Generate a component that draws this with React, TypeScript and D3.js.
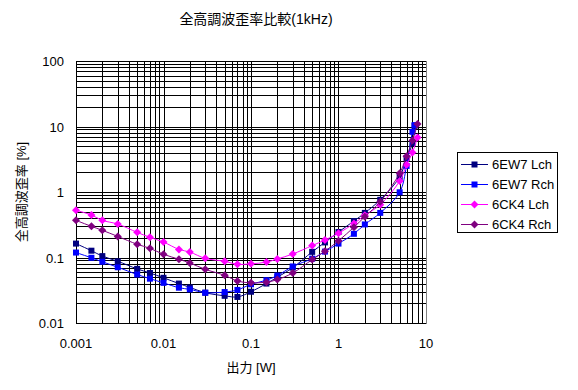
import React, { useEffect, useRef } from 'react';
import * as d3 from 'd3';

// output power [W]
const ewX = [0.001, 0.0015, 0.002, 0.003, 0.005, 0.007, 0.01, 0.015, 0.02, 0.03, 0.05, 0.07, 0.1, 0.15, 0.2, 0.3, 0.5, 0.7, 1, 1.5, 2, 3, 5, 6, 7, 7.4];
const ckX = [0.001, 0.0015, 0.002, 0.003, 0.005, 0.007, 0.01, 0.015, 0.02, 0.03, 0.05, 0.07, 0.1, 0.15, 0.2, 0.3, 0.5, 0.7, 1, 1.5, 2, 3, 5, 6, 7, 8];

// THD [%]
const ew7L = [0.163, 0.127, 0.105, 0.0875, 0.067, 0.058, 0.049, 0.040, 0.035, 0.029, 0.026, 0.025, 0.030, 0.040, 0.050, 0.070, 0.122, 0.17, 0.245, 0.36, 0.48, 0.76, 1.7, 3.3, 5.5, 10.2];
const ew7R = [0.119, 0.099, 0.086, 0.071, 0.055, 0.0475, 0.041, 0.0346, 0.0326, 0.029, 0.0297, 0.032, 0.039, 0.045, 0.053, 0.073, 0.096, 0.123, 0.163, 0.23, 0.32, 0.48, 0.99, 2.5, 8.3, 10.5];
const ck4L = [0.525, 0.446, 0.369, 0.324, 0.242, 0.203, 0.172, 0.133, 0.121, 0.097, 0.0875, 0.0787, 0.080, 0.085, 0.095, 0.113, 0.152, 0.185, 0.235, 0.33, 0.44, 0.64, 1.47, 2.6, 4.0, 6.8];
const ck4R = [0.369, 0.299, 0.260, 0.210, 0.159, 0.138, 0.112, 0.094, 0.0824, 0.066, 0.0534, 0.0438, 0.041, 0.042, 0.046, 0.058, 0.093, 0.125, 0.18, 0.29, 0.42, 0.71, 1.93, 3.5, 6.1, 10.9];

const seriesNames = ['6EW7 Lch', '6EW7 Rch', '6CK4 Lch', '6CK4 Rch'];
const xTicks = [0.001, 0.01, 0.1, 1, 10];
const yTicks = [0.01, 0.1, 1, 10, 100];

const font = '"Liberation Sans", Arial, "Noto Sans CJK JP", sans-serif';

const App = () => {
  const svgRef = useRef<SVGSVGElement>(null);

  useEffect(() => {
    const margin = { top: 61, left: 76 };
    const width = 350;
    const height = 262;

    const root = d3.select(svgRef.current);
    root.selectAll('*').remove();

    const svg = root.append('g')
      .attr('transform', `translate(${margin.left},${margin.top})`);

    const xScale = d3.scaleLog().domain([0.001, 10]).range([0, width]);
    const yScale = d3.scaleLog().domain([0.01, 100]).range([height, 0]);

    // grid, major + minor
    const xGrid: number[] = [];
    for (let e = -3; e < 1; e++) for (let k = 1; k < 10; k++) xGrid.push(k * Math.pow(10, e));
    const yGrid: number[] = [];
    for (let e = -2; e < 2; e++) for (let k = 1; k < 10; k++) yGrid.push(k * Math.pow(10, e));

    const grid = svg.append('g').attr('shape-rendering', 'crispEdges');
    grid.selectAll('.vgrid').data(xGrid).enter().append('line')
      .attr('x1', d => Math.round(xScale(d)) + 0.5).attr('x2', d => Math.round(xScale(d)) + 0.5)
      .attr('y1', 0).attr('y2', height)
      .attr('stroke', '#000').attr('stroke-width', 1);
    grid.selectAll('.hgrid').data(yGrid.concat([100])).enter().append('line')
      .attr('y1', d => Math.round(yScale(d)) + 0.5).attr('y2', d => Math.round(yScale(d)) + 0.5)
      .attr('x1', 0).attr('x2', width)
      .attr('stroke', '#000').attr('stroke-width', 1);

    // right border of the plot area
    grid.append('line')
      .attr('x1', width + 0.5).attr('x2', width + 0.5).attr('y1', 0).attr('y2', height + 1)
      .attr('stroke', '#808080');

    // tick labels
    svg.selectAll('.xlab').data(xTicks).enter().append('text')
      .attr('x', d => xScale(d)).attr('y', height + 25)
      .attr('text-anchor', 'middle')
      .style('font-family', font).style('font-size', '13px')
      .text(d => String(d));
    svg.selectAll('.ylab').data(yTicks).enter().append('text')
      .attr('x', -12).attr('y', d => yScale(d) + 5)
      .attr('text-anchor', 'end')
      .style('font-family', font).style('font-size', '13px')
      .text(d => String(d));

    // axis titles
    svg.append('text')
      .attr('x', width / 2).attr('y', height + 49)
      .attr('text-anchor', 'middle')
      .style('font-family', font).style('font-size', '13px')
      .text('出力 [W]');
    svg.append('text')
      .attr('transform', `translate(${-50},${height / 2}) rotate(-90)`)
      .attr('text-anchor', 'middle')
      .style('font-family', font).style('font-size', '13px')
      .text('全高調波歪率 [%]');

    const series = [
      { name: seriesNames[0], xs: ewX, ys: ew7L, color: '#000080', shape: 'square' },
      { name: seriesNames[1], xs: ewX, ys: ew7R, color: '#0000ff', shape: 'square' },
      { name: seriesNames[2], xs: ckX, ys: ck4L, color: '#ff00ff', shape: 'diamond' },
      { name: seriesNames[3], xs: ckX, ys: ck4R, color: '#800080', shape: 'diamond' },
    ];

    const line = d3.line<[number, number]>()
      .x(d => xScale(d[0]))
      .y(d => yScale(d[1]))
      .curve(d3.curveCatmullRom.alpha(0.5));

    const marker = (g, shape, color, x, y) => {
      if (shape === 'square') {
        g.append('rect')
          .attr('x', x - 3).attr('y', y - 3).attr('width', 6).attr('height', 6)
          .attr('fill', color);
      } else {
        g.append('path')
          .attr('d', `M${x},${y - 4}L${x + 4},${y}L${x},${y + 4}L${x - 4},${y}Z`)
          .attr('fill', color);
      }
    };

    series.forEach(s => {
      const pts = s.xs.map((x, i) => [x, s.ys[i]] as [number, number]);
      svg.append('path')
        .attr('d', line(pts))
        .attr('fill', 'none')
        .attr('stroke', s.color)
        .attr('stroke-width', 1);
      const g = svg.append('g');
      pts.forEach(p => marker(g, s.shape, s.color, xScale(p[0]), yScale(p[1])));
    });

    // legend
    const legend = root.append('g').attr('transform', 'translate(457,152)');
    legend.append('rect')
      .attr('x', 0.5).attr('y', 0.5).attr('width', 100).attr('height', 80)
      .attr('fill', '#fff').attr('stroke', '#000')
      .attr('shape-rendering', 'crispEdges');
    series.forEach((s, i) => {
      const y = 12 + i * 20;
      legend.append('line')
        .attr('x1', 4).attr('x2', 31).attr('y1', y + 0.5).attr('y2', y + 0.5)
        .attr('stroke', s.color);
      marker(legend, s.shape, s.color, 17.5, y + 0.5);
      legend.append('text')
        .attr('x', 35).attr('y', y + 5)
        .style('font-family', font).style('font-size', '13px')
        .text(s.name);
    });

    // title
    root.append('text')
      .attr('x', 256).attr('y', 24)
      .attr('text-anchor', 'middle')
      .style('font-family', font).style('font-size', '14px')
      .text('全高調波歪率比較(1kHz)');
  }, []);

  return (
    <svg ref={svgRef} width={578} height={390}
      style={{ position: 'absolute', left: 0, top: 0, background: '#fff' }} />
  );
};

export default App;
